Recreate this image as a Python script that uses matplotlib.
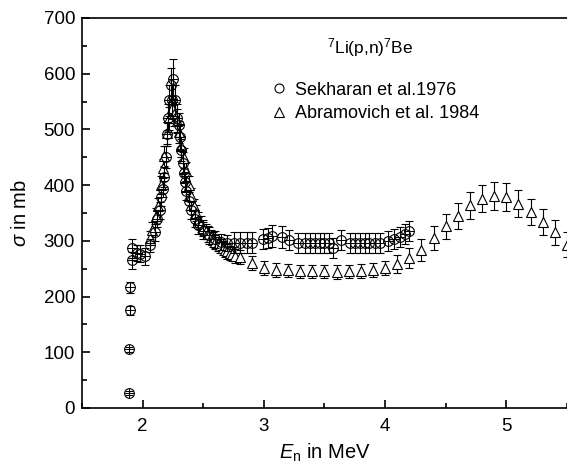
import matplotlib.pyplot as plt
from matplotlib.lines import Line2D
from matplotlib.ticker import MultipleLocator

plt.rcParams['font.family'] = ['Liberation Sans', 'DejaVu Sans']
plt.rcParams['mathtext.fontset'] = 'custom'
plt.rcParams['mathtext.rm'] = 'Liberation Sans'
plt.rcParams['mathtext.it'] = 'Liberation Sans:italic'

# Sekharan et al. 1976
sek_E = [1.89, 1.89, 1.90, 1.90, 1.91, 1.91, 1.95, 1.98, 2.02, 2.06,
         2.10, 2.12, 2.14, 2.15, 2.17, 2.18, 2.19, 2.20, 2.21, 2.22,
         2.23, 2.24, 2.25, 2.27, 2.28, 2.30, 2.31, 2.32, 2.33, 2.34,
         2.35, 2.36, 2.38, 2.40, 2.43, 2.46, 2.50, 2.55, 2.60, 2.65,
         2.70, 2.75, 2.80, 2.86, 2.90, 2.99, 3.03, 3.07, 3.15, 3.21,
         3.28, 3.34, 3.38, 3.42, 3.46, 3.50, 3.54, 3.57, 3.64, 3.71,
         3.75, 3.79, 3.83, 3.87, 3.92, 3.96, 4.02, 4.07, 4.12, 4.16,
         4.20]
sek_sig = [27, 105, 175, 217, 265, 287, 278, 277, 272, 292,
           315, 340, 355, 378, 393, 415, 450, 492, 520, 552,
           580, 552, 590, 552, 520, 508, 487, 463, 440, 422,
           406, 390, 372, 355, 340, 328, 318, 310, 303, 298,
           296, 297, 297, 297, 297, 303, 305, 309, 307, 301,
           296, 296, 296, 296, 296, 296, 296, 287, 301, 296,
           296, 296, 296, 296, 296, 296, 300, 303, 307, 312,
           318]
sek_err = [3, 5, 8, 10, 15, 17, 15, 15, 15, 12,
           15, 15, 15, 15, 15, 18, 20, 22, 25, 28,
           30, 28, 36, 28, 25, 22, 22, 20, 20, 18,
           18, 17, 16, 15, 15, 15, 15, 15, 15, 15,
           15, 18, 18, 18, 18, 18, 18, 20, 20, 18,
           18, 18, 18, 18, 18, 18, 18, 18, 18, 18,
           18, 18, 18, 18, 18, 18, 18, 18, 18, 18,
           18]

# Abramovich et al. 1984
abr_E = [2.06, 2.08, 2.11, 2.13, 2.15, 2.17, 2.18, 2.20, 2.22, 2.24,
         2.26, 2.28, 2.30, 2.32, 2.34, 2.36, 2.38, 2.40, 2.42, 2.44,
         2.46, 2.48, 2.50, 2.52, 2.54, 2.56, 2.58, 2.60, 2.62, 2.64,
         2.66, 2.68, 2.70, 2.72, 2.74, 2.76, 2.80, 2.90, 3.00, 3.10,
         3.20, 3.30, 3.40, 3.50, 3.60, 3.70, 3.80, 3.90, 4.00, 4.10,
         4.20, 4.30, 4.40, 4.50, 4.60, 4.70, 4.80, 4.90, 5.00, 5.10,
         5.20, 5.30, 5.40, 5.50]
abr_sig = [305, 320, 345, 362, 400, 430, 452, 493, 520, 538,
           528, 515, 495, 470, 448, 425, 400, 380, 362, 350,
           338, 330, 323, 317, 312, 307, 302, 298, 294, 291,
           287, 284, 281, 278, 276, 273, 271, 260, 251, 248,
           247, 245, 245, 245, 244, 245, 246, 248, 251, 259,
           269, 284, 305, 326, 345, 364, 376, 381, 378, 367,
           352, 334, 315, 293]
abr_err = [12, 13, 14, 15, 16, 17, 18, 20, 21, 22,
           21, 21, 20, 19, 18, 17, 16, 15, 14, 14,
           14, 14, 14, 14, 14, 13, 13, 13, 13, 13,
           13, 13, 13, 13, 13, 13, 13, 13, 12, 12,
           12, 12, 12, 12, 12, 12, 12, 12, 13, 16,
           18, 20, 21, 22, 23, 24, 25, 25, 25, 25,
           24, 23, 22, 22]

fig = plt.figure(figsize=(5.67, 4.72), dpi=100)
ax = fig.add_axes([0.1446, 0.1356, 0.8554, 0.8263])

ax.errorbar(abr_E, abr_sig, yerr=abr_err, fmt='^', color='black',
            markerfacecolor='white', markeredgecolor='black', markersize=7,
            markeredgewidth=0.8, elinewidth=0.8, capsize=3, capthick=0.8,
            zorder=2)
ax.errorbar(sek_E, sek_sig, yerr=sek_err, fmt='o', color='black',
            markerfacecolor='none', markeredgecolor='black', markersize=7,
            markeredgewidth=0.8, elinewidth=0.8, capsize=3, capthick=0.8,
            zorder=3)
ax.plot(sek_E, sek_sig, '+', color='black', markersize=7,
        markeredgewidth=0.7, zorder=3)

ax.set_xlim(1.5, 5.5)
ax.set_ylim(0, 700)
ax.xaxis.set_major_locator(MultipleLocator(1))
ax.xaxis.set_minor_locator(MultipleLocator(0.5))
ax.yaxis.set_major_locator(MultipleLocator(100))
ax.yaxis.set_minor_locator(MultipleLocator(50))
ax.tick_params(which='both', direction='in', top=False, right=False,
               labelsize=13.5, width=1.2)
ax.tick_params(axis='x', pad=7)
ax.tick_params(axis='y', pad=5)
ax.tick_params(which='major', length=6)
ax.tick_params(which='minor', length=3.5)
ax.spines['right'].set_visible(False)
for s in ['left', 'bottom', 'top']:
    ax.spines[s].set_linewidth(1.2)

ax.set_xlabel(r'$E_{\mathrm{n}}$ in MeV', fontsize=14.5, labelpad=5)
ax.set_ylabel(r'$\sigma$ in mb', fontsize=14.5, labelpad=10)

ax.text(0.505, 0.925, r'$^{7}$Li(p,n)$^{7}$Be', transform=ax.transAxes,
        fontsize=12.5, ha='left', va='center')

handles = [
    Line2D([], [], marker='o', linestyle='none', markerfacecolor='none',
           markeredgecolor='black', markersize=6.5, markeredgewidth=0.8),
    Line2D([], [], marker='^', linestyle='none', markerfacecolor='none',
           markeredgecolor='black', markersize=6.5, markeredgewidth=0.8),
]
ax.legend(handles, ['Sekharan et al.1976', 'Abramovich et al. 1984'],
          loc='upper left', bbox_to_anchor=(0.365, 0.86), frameon=False,
          fontsize=13, handletextpad=0.3, labelspacing=0.35,
          handlelength=1.2, borderpad=0)

fig.savefig('out.png', dpi=100)
